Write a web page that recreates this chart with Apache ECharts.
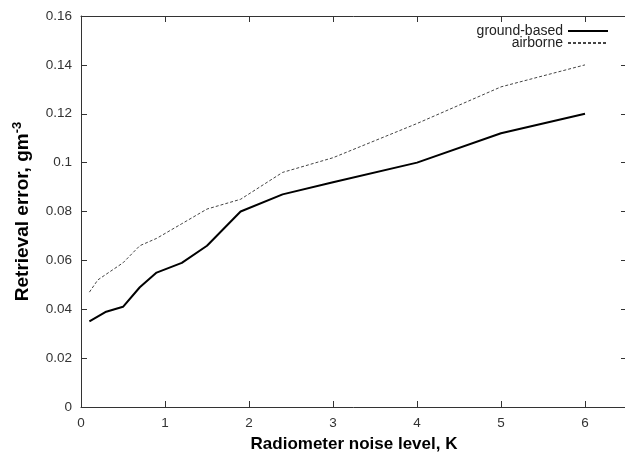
<!DOCTYPE html>
<html>
<head>
<meta charset="utf-8">
<script src="https://cdn.jsdelivr.net/npm/echarts@6/dist/echarts.min.js"></script>
<style>
  html, body { margin: 0; padding: 0; background: #fff; }
  #chart { width: 625px; height: 452px; }
</style>
</head>
<body>
<div id="chart"></div>
<script>
var groundX = [0.1, 0.3, 0.5, 0.7, 0.9, 1.2, 1.5, 1.9, 2.4, 3, 4, 5, 6];
var groundY = [0.035, 0.039, 0.041, 0.049, 0.055, 0.059, 0.066, 0.080, 0.087, 0.092, 0.100, 0.112, 0.120];
var airX = [0.1, 0.2, 0.5, 0.7, 0.9, 1.2, 1.5, 1.9, 2.4, 3, 4, 5, 6];
var airY = [0.047, 0.052, 0.059, 0.066, 0.069, 0.075, 0.081, 0.085, 0.096, 0.102, 0.116, 0.131, 0.140];

function pairs(xs, ys) {
    return xs.map(function (x, i) { return [x, ys[i]]; });
}

var chart = echarts.init(document.getElementById('chart'));

var font = 'Liberation Sans, Arial, sans-serif';
var tickLabel = { color: '#333', fontSize: 13.5, fontFamily: font };
var frame = { show: true, onZero: false, lineStyle: { color: '#333', width: 1 } };
var ticks = { show: true, inside: true, length: 6, lineStyle: { color: '#333' } };

var option = {
    animation: false,
    textStyle: { fontFamily: font },
    grid: { left: 81, right: -2, top: 16, bottom: 45, outerBoundsMode: 'none' },
    legend: {
        orient: 'vertical',
        right: 11,
        top: 19,
        align: 'right',
        itemWidth: 40,
        itemHeight: 8,
        itemGap: -2,
        itemStyle: { opacity: 0 },
        textStyle: { fontSize: 14, color: '#222', fontFamily: font },
        data: ['ground-based', 'airborne']
    },
    xAxis: [
        {
            type: 'value',
            min: 0, max: 6.5, interval: 1,
            name: 'Radiometer noise level, K',
            nameLocation: 'middle',
            nameGap: 29,
            nameTextStyle: { fontSize: 17, fontWeight: 'bold', color: '#000' },
            axisLine: frame,
            axisTick: ticks,
            axisLabel: Object.assign({ margin: 9, showMaxLabel: false }, tickLabel),
            splitLine: { show: false }
        },
        {
            type: 'value', position: 'top',
            min: 0, max: 6.5, interval: 1,
            axisLine: frame,
            axisTick: ticks,
            axisLabel: { show: false },
            splitLine: { show: false }
        }
    ],
    yAxis: [
        {
            type: 'value',
            min: 0, max: 0.16, interval: 0.02,
            name: '{a|Retrieval error, gm}{s|-3}',
            nameLocation: 'middle',
            nameGap: 47,
            nameTextStyle: {
                rich: {
                    a: { fontSize: 19, fontWeight: 'bold', color: '#000', fontFamily: font },
                    s: { fontSize: 13, fontWeight: 'bold', color: '#000', fontFamily: font, padding: [0, 0, 10, 0] }
                }
            },
            axisLine: frame,
            axisTick: ticks,
            axisLabel: Object.assign({ margin: 9 }, tickLabel),
            splitLine: { show: false }
        },
        {
            type: 'value', position: 'right',
            min: 0, max: 0.16, interval: 0.02,
            axisLine: frame,
            axisTick: ticks,
            axisLabel: { show: false },
            splitLine: { show: false }
        }
    ],
    series: [
        {
            name: 'ground-based',
            type: 'line',
            symbol: 'none',
            data: pairs(groundX, groundY),
            lineStyle: { color: '#000', width: 2 },
            itemStyle: { color: '#000' }
        },
        {
            name: 'airborne',
            type: 'line',
            symbol: 'none',
            data: pairs(airX, airY),
            lineStyle: { color: '#444', width: 1, type: [3, 2] },
            itemStyle: { color: '#444' }
        }
    ]
};

chart.setOption(option);
</script>
</body>
</html>
